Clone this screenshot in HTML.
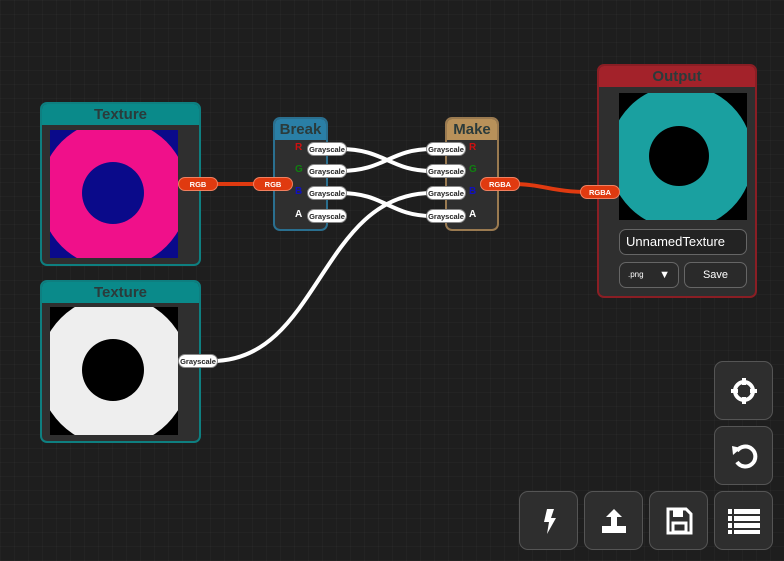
<!DOCTYPE html>
<html><head><style>
*{box-sizing:border-box;margin:0;padding:0}
body{width:784px;height:561px;overflow:hidden;background:#1e1e1e;font-family:"Liberation Sans",sans-serif;position:relative;
background-image:linear-gradient(90deg,rgba(255,255,255,0.025) 1px,transparent 1px),linear-gradient(rgba(255,255,255,0.025) 1px,transparent 1px);background-size:14px 14px}
.node{position:absolute;background:#2f2f2f;border:2px solid;border-radius:7px;overflow:hidden}
.hd{height:21px;text-align:center;font-weight:bold;font-size:15px;line-height:22px;color:#2b3b3b}
.img{position:absolute;width:128px;height:128px;overflow:hidden}
.pill{position:absolute;height:14px;border-radius:7px;font-size:7.5px;font-weight:bold;text-align:center;line-height:13px;z-index:5}
.red{background:#e03a10;color:#fff;border:1px solid #f08060}
.wh{background:#fff;color:#222;border:1px solid #888}
.lab{position:absolute;font-size:10px;font-weight:bold;z-index:5}
.btn{position:absolute;width:59px;height:59px;background:#2e2e2e;border:1px solid #555;border-radius:9px;display:flex;align-items:center;justify-content:center}
</style></head><body>
<svg width="784" height="561" style="position:absolute;left:0;top:0;z-index:3">
<line x1="210" y1="184" x2="262" y2="184" stroke="#e03a10" stroke-width="4"/>
<path d="M510 184 C545 184 550 192 590 192" stroke="#e03a10" stroke-width="4" fill="none"/>
<g stroke="#fff" stroke-width="4" fill="none">
<path d="M340 149 C385 149 390 171 432 171"/>
<path d="M340 171 C385 171 390 149 432 149"/>
<path d="M340 193 C385 193 390 216 432 216"/>
<path d="M212 361 C320 361 320 193 432 193"/>
</g></svg>

<div class="node" style="left:40px;top:102px;width:161px;height:164px;border-color:#0e7f80"><div class="hd" style="background:#0a8a8a">Texture</div></div>
<div class="img" style="left:50px;top:130px;background:#0a0a8a"><svg width="128" height="128"><circle cx="64" cy="64" r="74" fill="#f0108a"/><circle cx="63" cy="63" r="31" fill="#0a0a8a"/></svg></div>

<div class="node" style="left:40px;top:280px;width:161px;height:163px;border-color:#0e7f80"><div class="hd" style="background:#0a8a8a">Texture</div></div>
<div class="img" style="left:50px;top:307px;background:#000"><svg width="128" height="128"><circle cx="64" cy="64" r="75" fill="#eee"/><circle cx="63" cy="63" r="31" fill="#000"/></svg></div>

<div class="node" style="left:273px;top:117px;width:55px;height:114px;border-color:#2a6f8f"><div class="hd" style="background:#2a7fa6">Break</div></div>
<div class="node" style="left:445px;top:117px;width:54px;height:114px;border-color:#9a7a50"><div class="hd" style="background:#b8915a">Make</div></div>

<div class="node" style="left:597px;top:64px;width:160px;height:234px;border-color:#8a1e24"><div class="hd" style="background:#a3222a">Output</div></div>
<div class="img" style="left:619px;top:93px;height:127px;background:#000"><svg width="128" height="128"><circle cx="62" cy="64" r="72" fill="#1aa0a0"/><circle cx="60" cy="63" r="30" fill="#000"/></svg></div>
<div style="position:absolute;left:619px;top:229px;width:128px;height:26px;border:1px solid #666;border-radius:7px;background:#232323;color:#fff;font-size:13px;line-height:24px;padding-left:6px">UnnamedTexture</div>
<div style="position:absolute;left:619px;top:262px;width:60px;height:26px;border:1px solid #666;border-radius:7px;background:#2a2a2a;color:#fff;font-size:8px;line-height:24px;padding-left:8px">.png<span style="position:absolute;right:8px;font-size:11px">▼</span></div>
<div style="position:absolute;left:684px;top:262px;width:63px;height:26px;border:1px solid #666;border-radius:7px;background:#2a2a2a;color:#fff;font-size:11px;line-height:24px;text-align:center">Save</div>

<div class="pill red" style="left:178px;top:177px;width:40px">RGB</div>
<div class="pill red" style="left:253px;top:177px;width:40px">RGB</div>
<div class="pill wh" style="left:178px;top:354px;width:40px">Grayscale</div>
<div class="pill red" style="left:480px;top:177px;width:40px">RGBA</div>
<div class="pill red" style="left:580px;top:185px;width:40px">RGBA</div>

<div class="pill wh" style="left:307px;top:142px;width:40px">Grayscale</div>
<div class="pill wh" style="left:307px;top:164px;width:40px">Grayscale</div>
<div class="pill wh" style="left:307px;top:186px;width:40px">Grayscale</div>
<div class="pill wh" style="left:307px;top:209px;width:40px">Grayscale</div>
<div class="lab" style="left:295px;top:142px;color:#d01010">R</div>
<div class="lab" style="left:295px;top:164px;color:#108010">G</div>
<div class="lab" style="left:295px;top:186px;color:#1010c0">B</div>
<div class="lab" style="left:295px;top:209px;color:#fff">A</div>

<div class="pill wh" style="left:426px;top:142px;width:40px">Grayscale</div>
<div class="pill wh" style="left:426px;top:164px;width:40px">Grayscale</div>
<div class="pill wh" style="left:426px;top:186px;width:40px">Grayscale</div>
<div class="pill wh" style="left:426px;top:209px;width:40px">Grayscale</div>
<div class="lab" style="left:469px;top:142px;color:#d01010">R</div>
<div class="lab" style="left:469px;top:164px;color:#108010">G</div>
<div class="lab" style="left:469px;top:186px;color:#1010c0">B</div>
<div class="lab" style="left:469px;top:209px;color:#fff">A</div>

<div class="btn" style="left:714px;top:361px"><svg width="30" height="30" viewBox="0 0 30 30"><circle cx="15" cy="15" r="9" stroke="#fff" stroke-width="4" fill="none"/><g fill="#fff"><rect x="13" y="2" width="4" height="7"/><rect x="13" y="21" width="4" height="7"/><rect x="2" y="13" width="7" height="4"/><rect x="21" y="13" width="7" height="4"/></g></svg></div>
<div class="btn" style="left:714px;top:426px"><svg width="30" height="30" viewBox="0 0 30 30"><path d="M8 10 A10 10 0 1 1 8 21" stroke="#fff" stroke-width="4" fill="none"/><path d="M3 5 L12 7 L4 14Z" fill="#fff"/></svg></div>
<div class="btn" style="left:519px;top:491px"><svg width="30" height="30" viewBox="0 0 30 30"><path d="M13 3 L20 3 L17 12 L22 12 L13 28 L15 16 L10 16Z" fill="#fff"/></svg></div>
<div class="btn" style="left:584px;top:491px"><svg width="30" height="30" viewBox="0 0 30 30"><path d="M15 3 L23 11 L18 11 L18 20 L12 20 L12 11 L7 11Z" fill="#fff"/><rect x="3" y="20" width="24" height="7" fill="#fff"/></svg></div>
<div class="btn" style="left:649px;top:491px"><svg width="30" height="30" viewBox="0 0 30 30"><path d="M4 3 H22 L27 8 V27 H4Z" stroke="#fff" stroke-width="3" fill="none"/><rect x="9" y="4" width="10" height="7" fill="#fff"/><rect x="9" y="17" width="13" height="9" stroke="#fff" stroke-width="3" fill="none"/></svg></div>
<div class="btn" style="left:714px;top:491px"><svg width="32" height="26" viewBox="0 0 32 26"><g fill="#fff"><rect x="0" y="1" width="32" height="5"/><rect x="0" y="8" width="32" height="5"/><rect x="0" y="15" width="32" height="5"/><rect x="0" y="22" width="32" height="4"/></g><rect x="4" y="0" width="2" height="26" fill="#2e2e2e"/></svg></div>
</body></html>
